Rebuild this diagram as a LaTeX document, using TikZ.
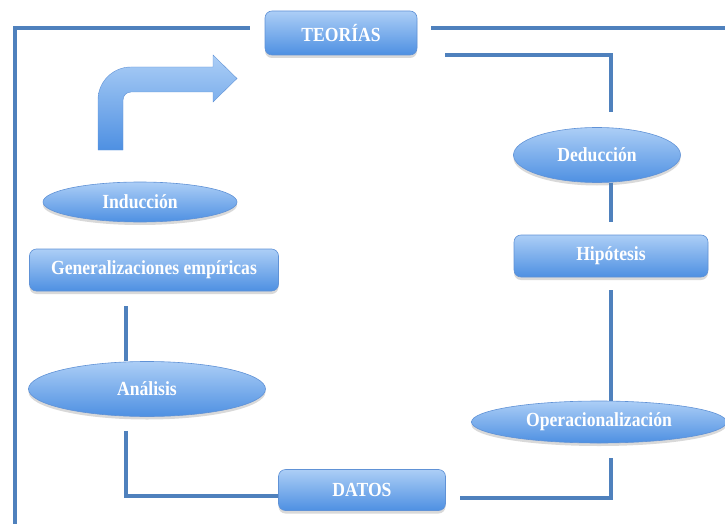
\documentclass[tikz,border=0pt]{standalone}
\usepackage{fontspec}
\setmainfont{Liberation Serif}[FakeStretch=0.88]
\usepackage{xcolor}
\usepackage{tikz}
\usetikzlibrary{shapes.geometric,shadows}

\definecolor{lineblue}{RGB}{79,129,189}
\definecolor{topblue}{RGB}{172,206,246}
\definecolor{botblue}{RGB}{78,144,226}
\definecolor{edgeblue}{RGB}{96,146,214}

\begin{document}
\begin{tikzpicture}[x=1pt, y=-1pt,
    every node/.style={text=white, font=\fontsize{20}{22}\selectfont\bfseries},
    boxnode/.style={rectangle, rounded corners=7pt, draw=edgeblue, line width=0.6pt,
        top color=topblue, bottom color=botblue, inner sep=0pt,
        drop shadow={opacity=0.3, shadow xshift=0pt, shadow yshift=-3pt}},
    ovalnode/.style={ellipse, draw=edgeblue, line width=0.6pt,
        top color=topblue, bottom color=botblue, inner sep=0pt,
        drop shadow={opacity=0.3, shadow xshift=0pt, shadow yshift=-3pt}},
    link/.style={draw=lineblue, line width=3.2pt}]
    \useasboundingbox (0,0) rectangle (725,524);

    % boxes and ovals
    \node[boxnode, minimum width=152pt, minimum height=44pt] (teorias) at (341,33) {TEORÍAS};
    \node[ovalnode, minimum width=167pt, minimum height=55pt] (deduccion) at (597,155) {Deducción};
    \node[boxnode, minimum width=194pt, minimum height=42pt] (hipotesis) at (611,256) {Hipótesis};
    \node[ovalnode, minimum width=255pt, minimum height=42pt] (operac) at (599,422) {Operacionalización};
    \node[boxnode, minimum width=167pt, minimum height=41pt] (datos) at (362,490) {DATOS};
    \node[ovalnode, minimum width=237pt, minimum height=55pt] (analisis) at (147,389) {Análisis};
    \node[boxnode, minimum width=249pt, minimum height=42pt] (generaliz) at (154,270) {Generalizaciones empíricas};
    \node[ovalnode, minimum width=194pt, minimum height=40pt] (induccion) at (140,202) {Inducción};

    \coordinate (tl) at (15,524);
    \coordinate (tr) at (725,28);

    % connectors
    \draw[link] ([xshift=-15pt,yshift=5pt]teorias.west) -| (tl);
    \draw[link] ([xshift=14pt,yshift=5pt]teorias.east) -- (tr);
    \draw[link, shorten >=15pt] ([xshift=28pt,yshift=-22pt]teorias.east) -| (hipotesis.north |- deduccion.north);
    \draw[link, shorten >=13pt] (hipotesis.north |- deduccion.south) -- (hipotesis.north);
    \draw[link, shorten <=13pt] (hipotesis.south) -- (hipotesis.south |- operac.north);
    \draw[link, shorten <=15pt, shorten >=14pt] (hipotesis.south |- operac.south) |- ([yshift=-8pt]datos.east);
    \draw[link, shorten <=15pt] ([xshift=-28pt]generaliz.south) -- ([xshift=-28pt]generaliz.south |- analisis.north);
    \draw[link, shorten <=14pt] ([xshift=-21pt]analisis.south) |- ([yshift=-6pt]datos.west);

    % bent arrow
    \path[top color=topblue, bottom color=botblue, draw=edgeblue, line width=0.4pt]
        (98,150) -- (98,100) to[out=90,in=180] (131,67) -- (213,67) -- (213,55)
        -- (237,78.5) -- (213,102) -- (213,92) -- (131,92)
        to[out=180,in=90] (123,100) -- (123,150) -- cycle;
\end{tikzpicture}
\end{document}
